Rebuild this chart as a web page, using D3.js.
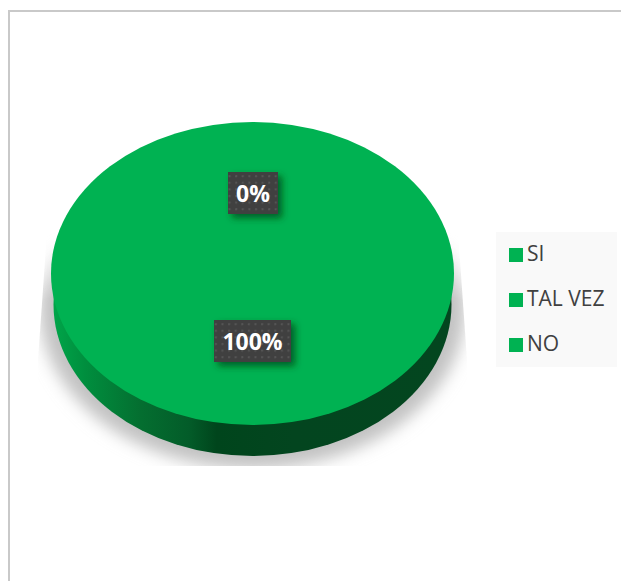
<!DOCTYPE html>
<html>
<head>
<meta charset="utf-8">
<script src="https://cdn.jsdelivr.net/npm/d3@7"></script>
<style>
  html, body { margin: 0; padding: 0; background: #fff; }
  svg { display: block; }
  text { font-family: "Open Sans", sans-serif; }
</style>
</head>
<body>
<svg id="chart" width="621" height="581"></svg>
<script>
const categories = ["SI", "TAL VEZ", "NO"];
const values = [0, 0, 100];
const sliceColors = ["#00b252", "#00b252", "#00b252"];
const labelledSlices = ["TAL VEZ", "NO"];

const svg = d3.select("#chart");
const defs = svg.append("defs");

const cx = 252.5, cy = 273.5, rx = 201.5, ry = 151.5, depth = 31, baseRx = 199;

// Frame around the chart area
svg.append("path")
  .attr("d", "M9 581V11H621")
  .attr("fill", "none").attr("stroke", "#c9c9c9").attr("stroke-width", 2);

// Side wall shading, lit on the left and falling into shadow towards the front
const sideUnit = defs.append("linearGradient").attr("id", "sideUnit")
  .attr("gradientUnits", "objectBoundingBox");
[[0, "#00a549"], [0.08, "#008e3e"], [0.22, "#046e30"], [0.34, "#035c29"], [0.41, "#00451c"], [0.6, "#03451f"], [1, "#03461f"]]
  .forEach(([o, c]) => sideUnit.append("stop").attr("offset", o).attr("stop-color", c));

const blur = defs.append("filter").attr("id", "groundBlur")
  .attr("x", "-20%").attr("y", "-20%").attr("width", "140%").attr("height", "140%");
blur.append("feGaussianBlur").attr("stdDeviation", 8);

defs.append("clipPath").attr("id", "groundClip").append("polygon")
  .attr("points", [[47, 232], [38, 360], [38, 466], [467, 466], [467, 360], [458, 232]].join(" "));

// The ground shadow fades out towards the back of the disc
const fade = defs.append("linearGradient").attr("id", "groundFade")
  .attr("gradientUnits", "userSpaceOnUse")
  .attr("x1", 0).attr("x2", 0).attr("y1", 232).attr("y2", 300);
fade.append("stop").attr("offset", 0).attr("stop-color", "#000");
fade.append("stop").attr("offset", 1).attr("stop-color", "#fff");
defs.append("mask").attr("id", "groundMask").attr("maskUnits", "userSpaceOnUse")
  .attr("x", 0).attr("y", 0).attr("width", 621).attr("height", 581)
  .append("rect").attr("width", 621).attr("height", 581).attr("fill", "url(#groundFade)");

const dots = defs.append("pattern").attr("id", "dots")
  .attr("patternUnits", "userSpaceOnUse").attr("width", 6.6).attr("height", 6.6);
dots.append("rect").attr("width", 6.6).attr("height", 6.6).attr("fill", "#404040");
dots.append("rect").attr("x", 2).attr("y", 2).attr("width", 2).attr("height", 2).attr("fill", "#555555");

const labelShadow = defs.append("filter").attr("id", "labelShadow")
  .attr("x", "-30%").attr("y", "-30%").attr("width", "170%").attr("height", "170%");
labelShadow.append("feDropShadow")
  .attr("dx", 4).attr("dy", 4).attr("stdDeviation", 3.5)
  .attr("flood-color", "#003d18").attr("flood-opacity", 0.7);

// Soft shadow under the disc
const arcUnit = d3.arc().innerRadius(0).outerRadius(1);
const ground = svg.append("g").attr("clip-path", "url(#groundClip)")
  .append("g").attr("mask", "url(#groundMask)");
ground.append("g").attr("filter", "url(#groundBlur)")
  .append("ellipse")
  .attr("cx", cx).attr("cy", cy + 36)
  .attr("rx", rx + 11).attr("ry", ry + 8)
  .attr("fill", "#c2c2c2");

// Pie layout: every slice keeps its data order, clockwise from the top
const pie = d3.pie().value(d => d.value).sort(null);
const rows = categories.map((c, i) => ({ name: c, value: values[i], color: sliceColors[i] }));
const arcs = pie(rows);

const sy = d3.scaleLinear().domain([-1, 1]).range([-ry, ry]);

function disc(g, radiusX, yOffset) {
  return g.attr("transform",
    `translate(${cx},${cy + yOffset}) scale(${radiusX},${sy(1)})`);
}

// Extruded side: a slightly narrower copy of the slices below the top face
disc(svg.append("g"), baseRx, depth).selectAll("path")
  .data(arcs.filter(d => d.value > 0)).join("path")
  .attr("d", arcUnit).attr("fill", "url(#sideUnit)");

// Top face
disc(svg.append("g"), rx, 0).selectAll("path")
  .data(arcs).join("path")
  .attr("d", arcUnit)
  .attr("fill", d => d.data.color);

// Value labels
const pct = d3.format(".0%");
const total = d3.sum(values);
const labelPos = { "TAL VEZ": [253, 193, 50], "NO": [252.5, 341, 77] };
const labels = svg.append("g").selectAll("g")
  .data(arcs.filter(d => labelledSlices.includes(d.data.name))).join("g")
  .attr("transform", d => `translate(${labelPos[d.data.name][0]},${labelPos[d.data.name][1]})`);
labels.append("rect")
  .attr("x", d => -labelPos[d.data.name][2] / 2).attr("y", -21)
  .attr("width", d => labelPos[d.data.name][2]).attr("height", 42)
  .attr("fill", "url(#dots)").attr("filter", "url(#labelShadow)");
labels.append("text")
  .attr("text-anchor", "middle").attr("y", 8.5)
  .attr("font-size", 23).attr("font-weight", 700).attr("fill", "#fff")
  .text(d => pct(d.data.value / total));

// Legend
const legendY = d3.scalePoint().domain(categories).range([255, 345]);
svg.append("rect").attr("x", 496).attr("y", 232).attr("width", 121).attr("height", 135).attr("fill", "#f9f9f9");
const legend = svg.append("g").selectAll("g").data(rows).join("g")
  .attr("transform", d => `translate(509,${legendY(d.name)})`);
legend.append("rect").attr("y", -7).attr("width", 14).attr("height", 14).attr("fill", d => d.color);
legend.append("text").attr("x", 18).attr("y", 6)
  .attr("font-size", 21).attr("fill", "#404040").text(d => d.name);
</script>
</body>
</html>
